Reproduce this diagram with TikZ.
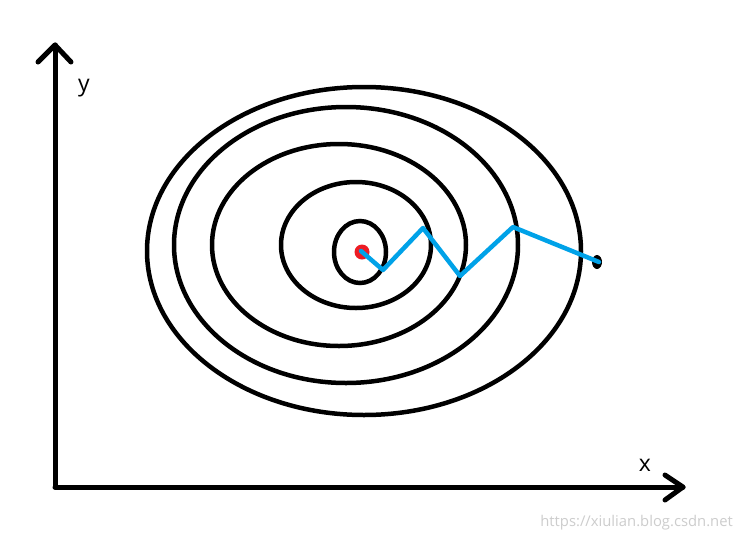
\documentclass[tikz,border=0pt]{standalone}
\usepackage{fontspec}
\setmainfont{Open Sans}
\usetikzlibrary{calc}
\definecolor{pblue}{RGB}{0,162,232}
\definecolor{pred}{RGB}{237,28,36}
\definecolor{wm}{RGB}{205,205,205}
\tikzset{
  axis/.style={line width=5pt, line cap=round, line join=round, black},
  contour/.style={line width=4.5pt, black},
  path/.style={line width=4.5pt, pblue, line cap=round, line join=round},
  lbl/.style={font=\fontsize{23}{25}\selectfont, inner sep=0pt},
}
\begin{document}
\begin{tikzpicture}[x=1pt,y=-1pt]
\useasboundingbox[fill=white] (0,0) rectangle (740,542);
% axes
\coordinate (O) at (55,487);
\coordinate (Ytip) at (55,45);
\coordinate (Xtip) at (683,487);
\draw[axis] (O) -- (Ytip);
\draw[axis] (O) -- (Xtip);
\draw[axis] ($(Ytip)+(-17,17)$) -- (Ytip) -- ($(Ytip)+(16,17)$);
\draw[axis] ($(Xtip)+(-18,-12)$) -- (Xtip) -- ($(Xtip)+(-18,13)$);
\node[lbl] (ylab) at (84,88) {y};
\node[lbl] (xlab) at (645,465) {x};
% contours
\draw[contour] (364,251) ellipse [x radius=217, y radius=164];
\draw[contour] (346,245) ellipse [x radius=172, y radius=138];
\draw[contour] (339,245) ellipse [x radius=127, y radius=101];
\draw[contour] (356,245) ellipse [x radius=75, y radius=63];
\draw[contour] (360,252) ellipse [x radius=26, y radius=31];
% start / end points
\fill[pred] (362,252) circle [radius=7.5];
\fill[black] (597,262) ellipse [x radius=5, y radius=7];
% descent path
\coordinate (p0) at (361,251);
\coordinate (p1) at (383,270);
\coordinate (p2) at (423,228);
\coordinate (p3) at (460,276);
\coordinate (p4) at (513,227);
\coordinate (p5) at (599,262);
\draw[path] (p0) -- (p1) -- (p2) -- (p3) -- (p4) -- (p5);
% watermark
\node[font=\fontsize{14.8}{16}\selectfont, text=wm, anchor=east, inner sep=0pt] (wmk) at (733,523) {https://xiulian.blog.csdn.net};
\end{tikzpicture}
\end{document}
